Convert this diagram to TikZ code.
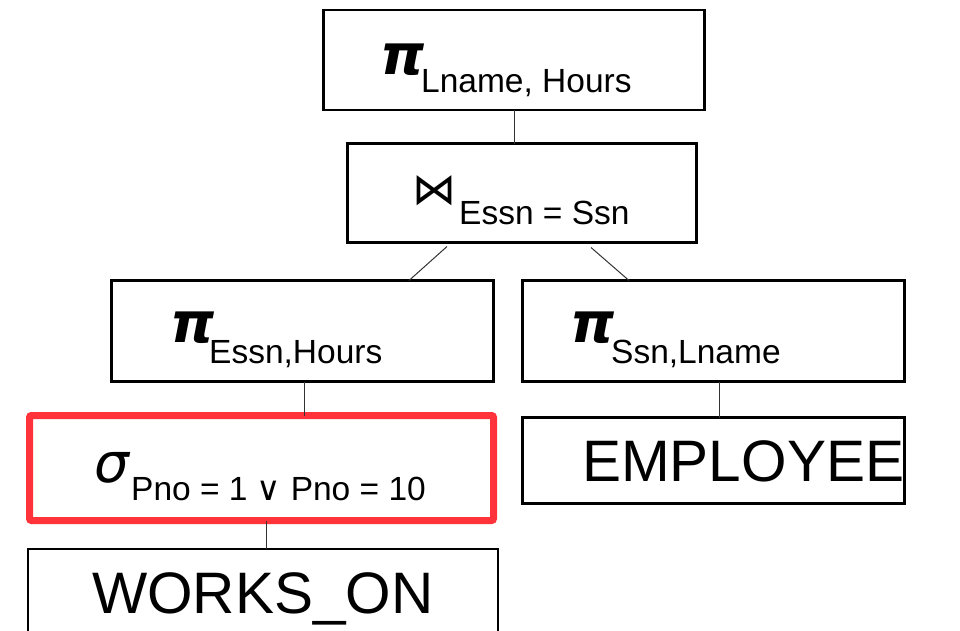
\documentclass[tikz,border=0pt]{standalone}
\usepackage{fontspec}
\setmainfont{Liberation Sans}
\newfontfamily\grk{DejaVu Sans}
\newfontfamily\symf{DejaVu Sans}
\definecolor{hlred}{HTML}{FF3339}
\begin{document}
\begin{tikzpicture}[x=1pt,y=-1pt,
  box/.style={draw=black,line width=2.5pt,inner sep=0pt,outer sep=0pt,fill=none},
  redbox/.style={draw=hlred,line width=7pt,rounded corners=2pt,inner sep=0pt,outer sep=0pt},
  conn/.style={draw=black!80,line width=1pt},
  op/.style={anchor=base west,inner sep=0pt,font=\grk\bfseries\itshape\fontsize{56}{56}\selectfont},
  sop/.style={anchor=base west,inner sep=0pt,font=\grk\itshape\fontsize{55}{55}\selectfont},
  sub/.style={anchor=base west,inner sep=0pt,font=\fontsize{33.5}{36}\selectfont},
  rel/.style={anchor=base west,inner sep=0pt,font=\fontsize{58.5}{60}\selectfont}]
\useasboundingbox (0,0) rectangle (960,630);
\clip (0,0) rectangle (960,630);
% boxes
\node[box,minimum width=381pt,minimum height=100pt] (top) at (514,60) {};
\node[box,minimum width=349pt,minimum height=99pt] (join) at (522,193) {};
\node[box,minimum width=382pt,minimum height=101pt] (lproj) at (302.5,331) {};
\node[box,minimum width=382pt,minimum height=101pt] (rproj) at (713.5,331) {};
\node[box,minimum width=382pt,minimum height=86pt] (emp) at (713.5,460.5) {};
\node[redbox,minimum width=464pt,minimum height=105pt] (sigma) at (261.5,468) {};
\node[box,minimum width=470pt,minimum height=132pt] (works) at (263,615) {};
% texts
\node[op] (pi1) at (380,74) {π};
\node[sub] (s1) at (421,92) {Lname, Hours};
\node[anchor=base west,inner sep=0pt,font=\symf\fontsize{44}{44}\selectfont] (bt) at (412,204) {⋈};
\node[sub] (s2) at (459,224) {Essn = Ssn};
\node[op] (pi2) at (170,342) {π};
\node[sub] (s3) at (209,363) {Essn,Hours};
\node[op] (pi3) at (570,342) {π};
\node[sub] (s4) at (611,363) {Ssn,Lname};
\node[sop] (sg) at (94,482) {σ};
\node[sub] (s5) at (131,500) {Pno = 1 {\symf ∨} Pno = 10};
\node[rel] (t1) at (582,481) {EMPLOYEE};
\node[rel] (t2) at (92,613) {WORKS\_ON};
% connectors
\draw[conn] (top.south) -- (top.south |- join.north);
\draw[conn] ([shift={(-75,4)}]join.south) -- ([shift={(106.5,0)}]lproj.north);
\draw[conn] ([shift={(69,5)}]join.south) -- ([shift={(-84.5,0)}]rproj.north);
\draw[conn] ([xshift=1.5pt]lproj.south) -- ([xshift=1.5pt]lproj.south |- sigma.north);
\draw[conn] ([xshift=5.5pt]rproj.south) -- ([xshift=5.5pt]rproj.south |- emp.north);
\draw[conn] ([xshift=4.5pt]sigma.south) -- ([xshift=4.5pt]sigma.south |- works.north);
\end{tikzpicture}
\end{document}
